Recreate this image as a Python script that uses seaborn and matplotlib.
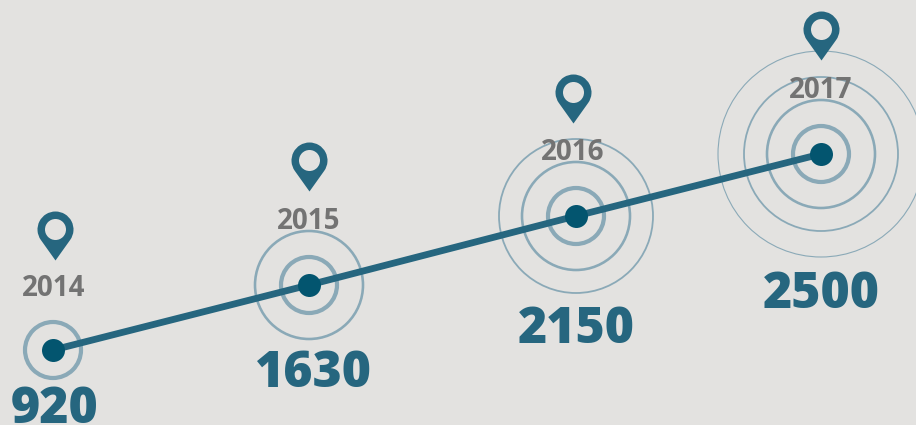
import numpy as np
import pandas as pd
import matplotlib.pyplot as plt
import seaborn as sns
from matplotlib.path import Path
from matplotlib.transforms import ScaledTranslation

years = [2014, 2015, 2016, 2017]
values = [920, 1630, 2150, 2500]

BG = '#E3E2E0'
LINE = '#26667F'
DOT = '#03556F'
RING = '#8AA9B7'
GREY = '#737373'

# the picture's axes are uneven, so they are warped to fit: stops for each scale
x_stops = [2013, 2014, 2015, 2016, 2017, 2018]
x_pos = [0, 53, 309, 576, 821, 916]
y_stops = [0, 920, 1630, 2150, 2500, 3400]
y_pos = [0, 75, 140, 209, 271, 425]

# radius in px, line width in px
rings = [(28, 4.2), (54, 2.6), (77, 1.8), (103, 1.1)]

# label and pin offsets from each point, px
pin_dx = [2, 0, -3, 0]
pin_dy = [121, 125, 124, 125]
year_dx = [1, 0, -3, 0]
year_dy = [61, 64, 63, 64]
value_dx = [2, 4, 0, 0]
value_dy = [60, 89, 114, 141]

PX = 0.72  # points per pixel at dpi 100


def make_pin():
    head = Path.arc(-35.5, 215.5)
    outer = Path(np.vstack([head.vertices * 18, [[0, -31], [0, -31]]]),
                 list(head.codes) + [Path.LINETO, Path.CLOSEPOLY])
    hole = Path.arc(0, 360)
    inner = Path(hole.vertices[::-1] * 10.5, hole.codes)
    return Path.make_compound_path(outer, inner)


df = pd.DataFrame({'year': years, 'value': values})

sns.set_theme(style='white')
plt.rcParams['font.family'] = ['Open Sans', 'DejaVu Sans']

fig = plt.figure(figsize=(9.16, 4.25), dpi=100, facecolor=BG)
ax = fig.add_axes([0, 0, 1, 1], facecolor=BG)
ax.set_xscale('function', functions=(lambda v: np.interp(v, x_stops, x_pos),
                                     lambda v: np.interp(v, x_pos, x_stops)))
ax.set_yscale('function', functions=(lambda v: np.interp(v, y_stops, y_pos),
                                     lambda v: np.interp(v, y_pos, y_stops)))

for i, (r, lw) in enumerate(rings):
    sns.scatterplot(data=df.iloc[i:], x='year', y='value', marker='o', s=(2 * r * PX) ** 2,
                    facecolor='none', edgecolor=RING, linewidth=lw * PX, ax=ax, zorder=2)

sns.lineplot(data=df, x='year', y='value', color=LINE, linewidth=6.8 * PX,
             solid_capstyle='butt', ax=ax, zorder=3)
sns.scatterplot(data=df, x='year', y='value', marker='o', s=(23 * PX) ** 2,
                color=DOT, linewidth=0, ax=ax, zorder=4)

pin = make_pin()
for i in range(len(years)):
    shift = ScaledTranslation(pin_dx[i] * PX / 72, pin_dy[i] * PX / 72, fig.dpi_scale_trans)
    sns.scatterplot(data=df.iloc[[i]], x='year', y='value', marker=pin, s=(62 * PX) ** 2,
                    color=LINE, linewidth=0, ax=ax, zorder=5, transform=ax.transData + shift)

    ax.annotate(str(years[i]), (years[i], values[i]), xytext=(year_dx[i] * PX, year_dy[i] * PX),
                textcoords='offset points', ha='center', va='center', fontsize=20,
                fontweight='bold', color=GREY, zorder=6)
    ax.annotate(str(values[i]), (years[i], values[i]), xytext=(value_dx[i] * PX, -value_dy[i] * PX),
                textcoords='offset points', ha='center', va='center', fontsize=36,
                fontweight='black', color=LINE, zorder=6)

ax.set_xlim(2013, 2018)
ax.set_ylim(0, 3400)
ax.set_axis_off()

plt.savefig('out.png', dpi=100, facecolor=BG)
plt.close()
